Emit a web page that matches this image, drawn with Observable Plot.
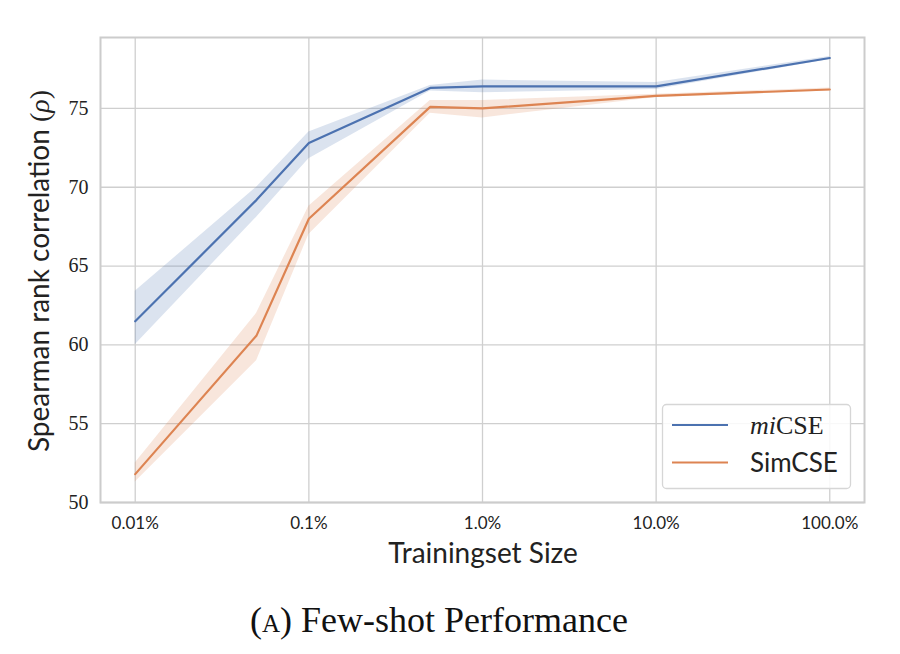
<!DOCTYPE html>
<html>
<head>
<meta charset="utf-8">
<script src="https://cdn.jsdelivr.net/npm/d3@7"></script>
<script src="https://cdn.jsdelivr.net/npm/@observablehq/plot@0.6"></script>
<style>
  html, body { margin: 0; padding: 0; background: white; }
  #caption { width: 878px; text-align: center; font-family: "Liberation Serif", serif; font-size: 36px; line-height: 45px; color: #111; margin: 0; }
  .sc { font-variant: small-caps; }
</style>
</head>
<body>
<div id="chart"></div>
<div id="caption">(<span class="sc">a</span>) Few-shot Performance</div>
<script>
// Training set size (%)
const sizes = [0.01, 0.05, 0.1, 0.5, 1, 10, 100];
const seriesNames = ["miCSE", "SimCSE"];
const micseMean = [61.5, 69.2, 72.8, 76.3, 76.4, 76.4, 78.2];
const micseLow  = [60.0, 68.1, 71.8, 76.1, 76.0, 76.2, 78.1];
const micseHigh = [63.4, 70.0, 73.5, 76.45, 76.8, 76.65, 78.3];
const simcseMean = [51.8, 60.6, 68.0, 75.1, 75.0, 75.8, 76.2];
const simcseLow  = [51.3, 59.0, 67.0, 74.7, 74.4, 75.7, 76.1];
const simcseHigh = [52.5, 62.0, 68.8, 75.5, 75.5, 75.9, 76.3];
const xTicks = [0.01, 0.1, 1, 10, 100];
const xTickLabels = ["0.01%", "0.1%", "1.0%", "10.0%", "100.0%"];
const yTicks = [50, 55, 60, 65, 70, 75];
const colors = ["#4c72b0", "#dd8452"];

const rows = [];
sizes.forEach((s, i) => rows.push({x: s, y: micseMean[i], lo: micseLow[i], hi: micseHigh[i], series: "miCSE"}));
sizes.forEach((s, i) => rows.push({x: s, y: simcseMean[i], lo: simcseLow[i], hi: simcseHigh[i], series: "SimCSE"}));

const chart = Plot.plot({
  width: 900,
  height: 598,
  marginLeft: 100,
  marginRight: 36,
  marginTop: 37,
  marginBottom: 96,
  style: {background: "white", color: "#222"},
  x: {type: "log", domain: [Math.pow(10, -2.2), Math.pow(10, 2.2)]},
  y: {domain: [50, 79.5]},
  color: {domain: seriesNames, range: colors},
  marks: [
    Plot.gridX(xTicks, {stroke: "#cfcfcf", strokeOpacity: 1, strokeWidth: 1.3}),
    Plot.gridY(yTicks, {stroke: "#cfcfcf", strokeOpacity: 1, strokeWidth: 1.3}),
    Plot.areaY(rows, {x: "x", y1: "lo", y2: "hi", fill: "series", fillOpacity: 0.2}),
    Plot.line(rows, {x: "x", y: "y", stroke: "series", strokeWidth: 2.2}),
    Plot.frame({stroke: "#cccccc", strokeWidth: 2}),
    Plot.axisX(xTicks, {tickSize: 0, tickPadding: 14, fontSize: 17, fontFamily: "Lato", label: null,
      tickFormat: d => xTickLabels[xTicks.indexOf(d)], fill: "#222"}),
    Plot.axisY(yTicks, {tickSize: 0, tickPadding: 12, fontSize: 20, fontFamily: "Liberation Serif", label: null, fill: "#222"})
  ]
});
document.getElementById("chart").appendChild(chart);

const svg = d3.select(chart);
// x label
svg.append("text")
  .attr("x", 483).attr("y", 563)
  .attr("text-anchor", "middle")
  .attr("font-family", "Lato").attr("font-size", 28).attr("fill", "#222")
  .text("Trainingset Size");
// y label
const yl = svg.append("text")
  .attr("transform", "translate(49,271) rotate(-90)")
  .attr("text-anchor", "middle")
  .attr("font-family", "Lato").attr("font-size", 28).attr("fill", "#222");
yl.append("tspan").text("Spearman rank correlation ");
yl.append("tspan").attr("font-family", "Liberation Serif").text("(");
yl.append("tspan").attr("font-family", "Liberation Serif").attr("font-style", "italic").text("ρ");
yl.append("tspan").attr("font-family", "Liberation Serif").text(")");

// legend
const lg = svg.append("g");
lg.append("rect").attr("x", 662.5).attr("y", 404.5).attr("width", 188).attr("height", 84)
  .attr("rx", 4).attr("fill", "white").attr("fill-opacity", 0.85)
  .attr("stroke", "#d6d6d6").attr("stroke-width", 1.3);
seriesNames.forEach((name, i) => {
  const yy = [425, 462.5][i];
  lg.append("line").attr("x1", 672).attr("x2", 728).attr("y1", yy).attr("y2", yy)
    .attr("stroke", colors[i]).attr("stroke-width", 2.2);
  const t = lg.append("text").attr("x", 750).attr("y", yy + 9).attr("text-anchor", "start")
    .attr("fill", "#222").attr("font-size", 26);
  if (name === "miCSE") {
    t.append("tspan").attr("font-family", "Liberation Serif").attr("font-style", "italic").text("mi");
    t.append("tspan").attr("font-family", "Liberation Serif").text("CSE");
  } else {
    t.attr("font-family", "Lato").text(name);
  }
});
</script>
</body>
</html>
